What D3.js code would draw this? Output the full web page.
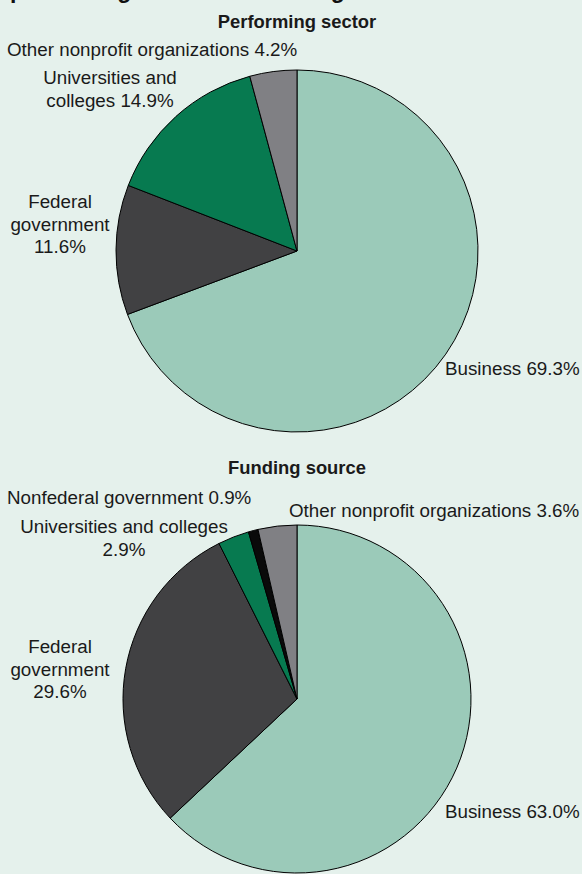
<!DOCTYPE html>
<html>
<head>
<meta charset="utf-8">
<script src="https://cdn.jsdelivr.net/npm/d3@7"></script>
<style>
  html, body { margin: 0; padding: 0; background: #e5f1ec; }
  svg { display: block; font-family: "Liberation Sans", Arial, Helvetica, sans-serif; }
</style>
</head>
<body>
<script>
// Shares of U.S. R&D, by performing sector (top) and by funding source (bottom)
const performingSectors = ["Business", "Federal government", "Universities and colleges", "Other nonprofit organizations"];
const performingShares = [69.3, 11.6, 14.9, 4.2];

const fundingSources = ["Business", "Federal government", "Universities and colleges", "Nonfederal government", "Other nonprofit organizations"];
const fundingShares = [63.0, 29.6, 2.9, 0.9, 3.6];

const sectorColors = {
  "Business": "#9bcab9",
  "Federal government": "#414143",
  "Universities and colleges": "#077a50",
  "Nonfederal government": "#0a0a0a",
  "Other nonprofit organizations": "#808084"
};

const W = 582, H = 874;
const svg = d3.select("body").append("svg").attr("width", W).attr("height", H);
svg.append("rect").attr("width", W).attr("height", H).attr("fill", "#e5f1ec");

// Title line running off the top edge
svg.append("text")
  .attr("x", 10).attr("y", -2.5)
  .attr("font-size", 23).attr("font-weight", "bold").attr("fill", "#111")
  .text("performing sector and funding source");

const pie = d3.pie().sort(null).value(d => d.value).startAngle(0).endAngle(2 * Math.PI);

function drawPie(cx, cy, r, names, values) {
  const data = names.map((n, i) => ({ name: n, value: values[i] }));
  const arc = d3.arc().innerRadius(0).outerRadius(r);
  const g = svg.append("g").attr("transform", `translate(${cx},${cy})`);
  g.selectAll("path").data(pie(data)).join("path")
    .attr("d", arc)
    .attr("fill", d => sectorColors[d.data.name])
    .attr("stroke", "#000")
    .attr("stroke-width", 1)
    .attr("stroke-linejoin", "round");
}

function label(lines, x, y, anchor, opts = {}) {
  const t = svg.append("text")
    .attr("x", x).attr("y", y)
    .attr("text-anchor", anchor)
    .attr("font-size", opts.size || 18.8)
    .attr("font-weight", opts.bold ? "bold" : "normal")
    .attr("fill", "#1a1a1a");
  lines.forEach((s, i) => {
    t.append("tspan").attr("x", x).attr("dy", i === 0 ? 0 : 22.5).text(s);
  });
}

const fmt = v => d3.format(".1f")(v) + "%";

// Performing sector
label(["Performing sector"], 297, 28, "middle", { bold: true, size: 18.4 });
drawPie(297, 251, 181, performingSectors, performingShares);
label(["Other nonprofit organizations " + fmt(performingShares[3])], 7, 56, "start");
label(["Universities and", "colleges " + fmt(performingShares[2])], 110, 84, "middle");
label(["Federal", "government", fmt(performingShares[1])], 60, 208, "middle");
label(["Business " + fmt(performingShares[0])], 445, 375, "start");

// Funding source
label(["Funding source"], 297, 474, "middle", { bold: true, size: 18.4 });
drawPie(297, 699, 174, fundingSources, fundingShares);
label(["Nonfederal government " + fmt(fundingShares[3])], 7, 504, "start");
label(["Other nonprofit organizations " + fmt(fundingShares[4])], 289, 517, "start");
label(["Universities and colleges", fmt(fundingShares[2])], 124, 533, "middle");
label(["Federal", "government", fmt(fundingShares[1])], 60, 653, "middle");
label(["Business " + fmt(fundingShares[0])], 445, 818, "start");
</script>
</body>
</html>
